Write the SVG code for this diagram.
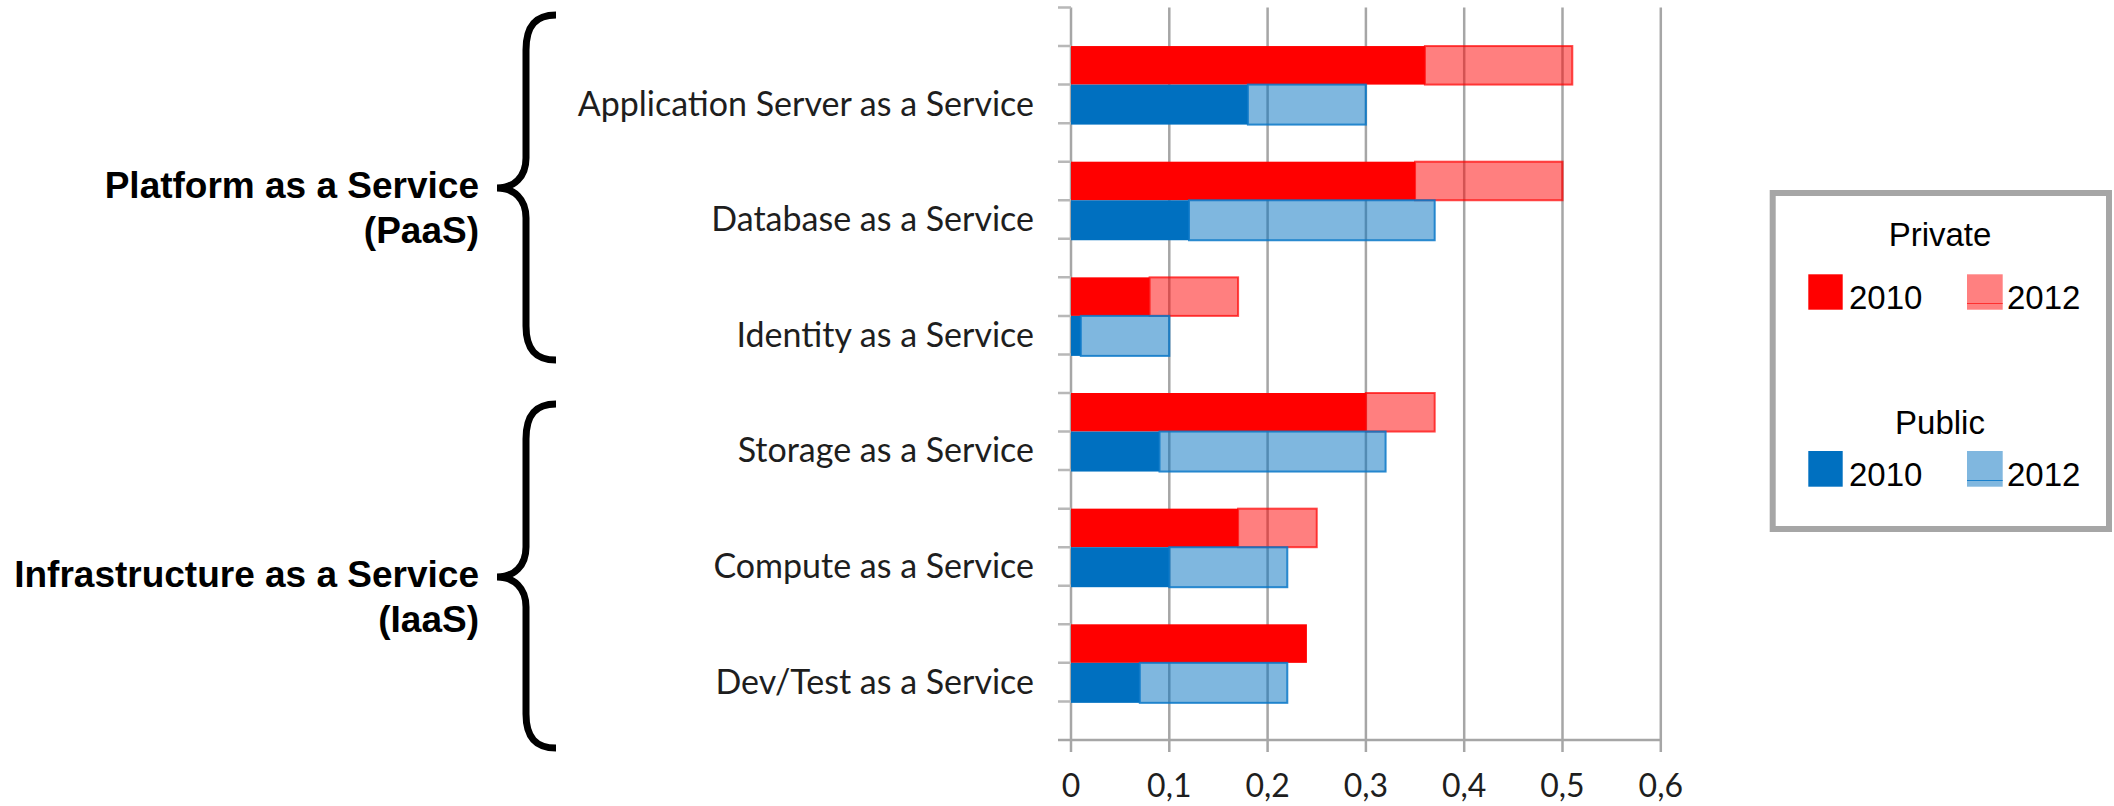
<svg xmlns="http://www.w3.org/2000/svg" width="2114" height="806" viewBox="0 0 2114 806">
  <style>
    .grid { stroke: #a6a6a6; stroke-width: 2.5; fill: none; }
    .tick { stroke: #b8b8b8; stroke-width: 2.5; fill: none; }
    .brace { stroke: #000; stroke-width: 7; fill: none; stroke-linecap: butt; }
    .group { font-family: "Liberation Sans", Arial, sans-serif; font-weight: bold; font-size: 37px; fill: #000; text-anchor: end; }
    .cat { font-family: Lato, "Open Sans", sans-serif; font-size: 34px; fill: #1e1e1e; text-anchor: end; }
    .num { font-family: Lato, "Open Sans", sans-serif; font-size: 32px; fill: #1e1e1e; text-anchor: middle; }
    .leg { font-family: "Liberation Sans", Arial, sans-serif; font-size: 33px; fill: #000; }
    .r10 { fill: #ff0000; }
    .b10 { fill: #0070c0; }
    .r12 { fill: #ff0000; fill-opacity: 0.5; stroke: #ff0000; stroke-opacity: 0.7; stroke-width: 2; }
    .b12 { fill: #0070c0; fill-opacity: 0.5; stroke: #0a78c8; stroke-opacity: 0.85; stroke-width: 2; }
  </style>

  <!-- plot area: value axis 0..0.6, x = 1071 + 983*v -->
  <g id="axes">
    <!-- vertical gridlines with tick stubs below the base line -->
    <path class="grid" d="M1071,7.5 V752 M1169.3,7.5 V752 M1267.6,7.5 V752 M1365.9,7.5 V752 M1464.2,7.5 V752 M1562.5,7.5 V752 M1660.8,7.5 V752"/>
    <!-- base line -->
    <path class="grid" d="M1058,740 H1661"/>
    <!-- category ticks on the left axis -->
    <path class="tick" d="M1058,7.5 H1071 M1058,46.05 H1071 M1058,84.6 H1071 M1058,123.15 H1071 M1058,161.7 H1071 M1058,200.25 H1071 M1058,238.8 H1071 M1058,277.35 H1071 M1058,315.9 H1071 M1058,354.45 H1071 M1058,393 H1071 M1058,431.55 H1071 M1058,470.1 H1071 M1058,508.65 H1071 M1058,547.2 H1071 M1058,585.75 H1071 M1058,624.3 H1071 M1058,662.85 H1071 M1058,701.4 H1071"/>
  </g>

  <g id="axis-labels">
    <text class="num" x="1071" y="797">0</text>
    <text class="num" x="1169.3" y="797">0,1</text>
    <text class="num" x="1267.6" y="797">0,2</text>
    <text class="num" x="1365.9" y="797">0,3</text>
    <text class="num" x="1464.2" y="797">0,4</text>
    <text class="num" x="1562.5" y="797">0,5</text>
    <text class="num" x="1660.8" y="797">0,6</text>
  </g>

  <!-- bars: solid = 2010, translucent extension = 2012 -->
  <g id="app-server">
    <rect class="r10" x="1071" y="46.05" width="353.9" height="38.55"/>
    <rect class="r12" x="1424.9" y="46.05" width="147.4" height="38.55"/>
    <rect class="b10" x="1071" y="84.6" width="176.9" height="40"/>
    <rect class="b12" x="1247.9" y="84.6" width="118" height="40"/>
    <text class="cat" x="1034" y="115.5">Application Server as a Service</text>
  </g>
  <g id="database">
    <rect class="r10" x="1071" y="161.7" width="344.05" height="38.55"/>
    <rect class="r12" x="1415.05" y="161.7" width="147.45" height="38.55"/>
    <rect class="b10" x="1071" y="200.25" width="118" height="40"/>
    <rect class="b12" x="1189" y="200.25" width="245.7" height="40"/>
    <text class="cat" x="1034" y="231.15">Database as a Service</text>
  </g>
  <g id="identity">
    <rect class="r10" x="1071" y="277.35" width="78.6" height="38.55"/>
    <rect class="r12" x="1149.6" y="277.35" width="88.5" height="38.55"/>
    <rect class="b10" x="1071" y="315.9" width="9.8" height="40"/>
    <rect class="b12" x="1080.8" y="315.9" width="88.5" height="40"/>
    <text class="cat" x="1034" y="346.8">Identity as a Service</text>
  </g>
  <g id="storage">
    <rect class="r10" x="1071" y="393" width="294.9" height="38.55"/>
    <rect class="r12" x="1365.9" y="393" width="68.8" height="38.55"/>
    <rect class="b10" x="1071" y="431.55" width="88.5" height="40"/>
    <rect class="b12" x="1159.5" y="431.55" width="226.1" height="40"/>
    <text class="cat" x="1034" y="462.45">Storage as a Service</text>
  </g>
  <g id="compute">
    <rect class="r10" x="1071" y="508.65" width="167.1" height="38.55"/>
    <rect class="r12" x="1238.1" y="508.65" width="78.65" height="38.55"/>
    <rect class="b10" x="1071" y="547.2" width="98.3" height="40"/>
    <rect class="b12" x="1169.3" y="547.2" width="118" height="40"/>
    <text class="cat" x="1034" y="578.1">Compute as a Service</text>
  </g>
  <g id="devtest">
    <rect class="r10" x="1071" y="624.3" width="235.9" height="38.55"/>
    <rect class="b10" x="1071" y="662.85" width="68.8" height="40"/>
    <rect class="b12" x="1139.8" y="662.85" width="147.5" height="40"/>
    <text class="cat" x="1034" y="693.75">Dev/Test as a Service</text>
  </g>

  <!-- service model groupings -->
  <g id="paas">
    <path class="brace" d="M556,15 C536,15 526,25 526,50 L526,158 C526,177 514,188 497,188 C514,188 526,199 526,218 L526,326 C526,350 536,360 556,360"/>
    <text class="group" x="479" y="198">Platform as a Service</text>
    <text class="group" x="479" y="243">(PaaS)</text>
  </g>
  <g id="iaas">
    <path class="brace" d="M556,404 C536,404 526,414 526,439 L526,547 C526,566 514,577 497,577 C514,577 526,588 526,607 L526,714 C526,738 536,748 556,748"/>
    <text class="group" x="479" y="587">Infrastructure as a Service</text>
    <text class="group" x="479" y="632">(IaaS)</text>
  </g>

  <g id="legend">
    <rect x="1772.7" y="193" width="336.3" height="336" fill="#fff" stroke="#a6a6a6" stroke-width="6"/>
    <text class="leg" x="1940" y="246" text-anchor="middle">Private</text>
    <rect class="r10" x="1808.3" y="274.3" width="34.4" height="35.4"/>
    <text class="leg" x="1849" y="309">2010</text>
    <rect x="1967" y="274.3" width="35.7" height="35.4" fill="#ff8080"/>
    <path d="M1967,303.5 H2002.7" stroke="#ff3030" stroke-width="1"/>
    <text class="leg" x="2007" y="309">2012</text>
    <text class="leg" x="1940" y="434" text-anchor="middle">Public</text>
    <rect class="b10" x="1808.3" y="451" width="34.4" height="35.7"/>
    <text class="leg" x="1849" y="486">2010</text>
    <rect x="1967" y="451" width="35.7" height="35.7" fill="#80b7df"/>
    <path d="M1967,480.5 H2002.7" stroke="#1a80cc" stroke-width="1"/>
    <text class="leg" x="2007" y="486">2012</text>
  </g>
</svg>
